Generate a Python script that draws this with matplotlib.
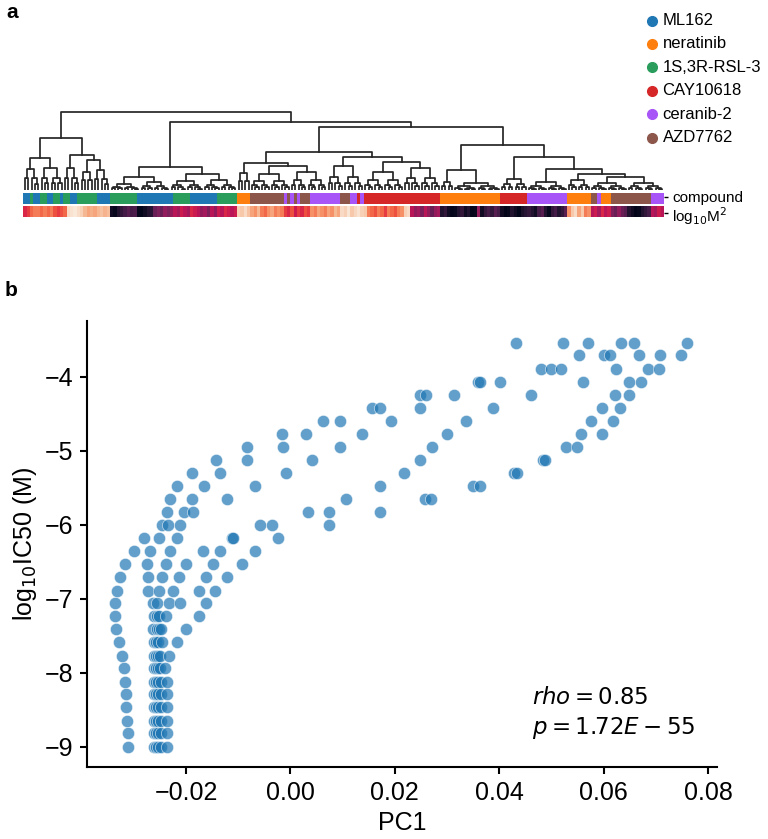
import numpy as np
import matplotlib
matplotlib.use("Agg")
import matplotlib.pyplot as plt
import seaborn as sns
from matplotlib.colors import ListedColormap

plt.rcParams['font.family'] = ['Liberation Sans', 'DejaVu Sans']

# ---- panel a: clustered profiles ----
compounds = ["ML162", "neratinib", "1S,3R-RSL-3", "CAY10618", "ceranib-2", "AZD7762"]
compound_colors = ["#1f77b4", "#ff7f0e", "#2a9d5c", "#d62728", "#a855f7", "#8c564b"]

# dendrogram leaf order as (compound index, run length)
leaf_runs = [(0, 2), (2, 1), (0, 2), (2, 2), (0, 2), (2, 2), (0, 1), (2, 2), (0, 2), (2, 6), (0, 4),
             (2, 8), (0, 11), (2, 5), (0, 8), (2, 6),
             (1, 4), (5, 10), (4, 1), (5, 1), (4, 1), (5, 1), (4, 1), (5, 3), (4, 9), (5, 3),
             (4, 2), (3, 1), (4, 1), (3, 23),
             (1, 18), (3, 8), (4, 12), (1, 7), (5, 2), (4, 1), (1, 3), (5, 12), (4, 4)]

# log10 M^2 for each leaf, in leaf order
log_m2 = [
    -12, -11.5, -10.5, -10, -10, -10.5, -10, -10.5, -10, -11, -11.5, -11, -10.5,
    -7.5, -7.3, -7.1, -7.4, -7.8,
    -8.5, -9, -8.7, -9, -8.5, -8.2, -8.6, -8.3,
    -17.5, -17.8, -17, -16.5,
    -16, -15.5, -16, -15.8,
    -17.8, -18, -17.5, -17, -16.8,
    -15, -14.5, -15, -14, -14.5, -14,
    -13, -13.5, -12.5, -13, -13.5,
    -12, -12.5, -13,
    -14, -13.5, -14.5, -13, -14,
    -12.5, -13, -12, -12.5, -13, -12.5,
    -7.8, -8, -7.5, -8.2,
    -9, -9.5, -8.5, -10, -10.5, -9.5, -9, -10, -9.5, -10,
    -11.5, -12, -11, -12.5, -11.5, -12, -11, -11.5,
    -9.5, -10, -9, -9.5, -10, -9, -9.5, -8.5, -9,
    -7.5, -7.8, -7.2, -8, -7.6, -7.3, -7.8, -8,
    -10, -10.5, -11, -10, -10.5, -11.5, -10, -10.5, -11, -10, -9.5,
    -7.8, -7.5,
    -13, -14, -13.5, -14.5, -13, -14, -15, -14, -13.5,
    -17, -16.5, -17.5, -18, -17.8, -17, -16.5, -17.5, -17, -18, -17.8, -14, -17.5, -16.5,
    -16, -16.5, -15.5, -16,
    -17.5, -18, -17.8, -17, -17.5, -18, -17.2, -16.8,
    -16.5, -17, -17.5, -16, -15.5, -17, -17.8, -16.5, -16, -17, -16.5, -15.5,
    -9.5, -8, -7.5, -9, -8, -10, -9.5,
    -13, -12.5, -13.5, -12, -13, -12.5,
    -14.5, -15, -14, -15, -15.5,
    -17, -17.5, -18, -17.8, -17, -16.5, -16,
    -13, -13.5, -12.5, -13,
]

# linkage tree: (height, left, right); [n_leaves, height] = block merged below height
tree = (78.3,
        (51.7,
         (31.7, [5, 21], [7, 22]),
         (35, [5, 22], (30, [4, 18], [5, 20]))),
        (67.7,
         (23.3, (13.3, [9, 6], [9, 8]), (15.7, [10, 9], [10, 10])),
         (63.3,
          (38.3,
           (26.7, [4, 16.7], (24, [12, 16], [11, 18])),
           (33.3, [11, 24], (28.3, [12, 18], [11, 21.7]))),
          (45,
           (20, [4, 8], [14, 7]),
           (32.7, [8, 11], (20.7, [12, 8], (15.7, [7, 10], [22, 13])))))))

# ---- panel b: PC1 vs IC50 ----
ic50_levels = [-9.00, -8.82, -8.65, -8.47, -8.29, -8.12, -7.94, -7.77, -7.59, -7.41,
               -7.24, -7.06, -6.89, -6.71, -6.53, -6.36, -6.18, -6.00, -5.83, -5.65,
               -5.48, -5.30, -5.12, -4.95, -4.77, -4.59, -4.42, -4.24, -4.07, -3.89,
               -3.71, -3.54]
pc1_at_level = [
    [-0.0311, -0.0261, -0.0258, -0.0254, -0.0248, -0.0237],
    [-0.0312, -0.0261, -0.0258, -0.0254, -0.0248, -0.0237],
    [-0.0313, -0.0261, -0.0258, -0.0254, -0.0248, -0.0237],
    [-0.0314, -0.0261, -0.0258, -0.0254, -0.0248, -0.0237],
    [-0.0315, -0.0261, -0.0258, -0.0254, -0.0248, -0.0237],
    [-0.0317, -0.0261, -0.0258, -0.0254, -0.0248, -0.0237],
    [-0.0319, -0.0261, -0.0258, -0.0254, -0.0249, -0.0241],
    [-0.0322, -0.0261, -0.0258, -0.0254, -0.0250, -0.0233],
    [-0.0329, -0.0261, -0.0258, -0.0254, -0.0246, -0.0217],
    [-0.0334, -0.0263, -0.0256, -0.0252, -0.0247, -0.0200],
    [-0.0336, -0.0261, -0.0255, -0.0251, -0.0239, -0.0176],
    [-0.0336, -0.0263, -0.0255, -0.0233, -0.0212, -0.0162],
    [-0.0333, -0.0272, -0.0251, -0.0224, -0.0176, -0.0145],
    [-0.0326, -0.0273, -0.0245, -0.0214, -0.0161, -0.0122],
    [-0.0317, -0.0274, -0.0239, -0.0200, -0.0149, -0.0093],
    [-0.0299, -0.0268, -0.0230, -0.0168, -0.0135, -0.0068],
    [-0.0281, -0.0252, -0.0218, -0.0112, -0.0109, -0.0023],
    [-0.0245, -0.0234, -0.0212, -0.0058, -0.0036, 0.0074],
    [-0.0237, -0.0204, -0.0187, 0.0033, 0.0074, 0.0172],
    [-0.0231, -0.0188, -0.0122, 0.0106, 0.0257, 0.0269],
    [-0.0218, -0.0166, -0.0068, 0.0172, 0.0350, 0.0364],
    [-0.0189, -0.0135, -0.0009, 0.0217, 0.0429, 0.0434],
    [-0.0143, -0.0084, 0.0042, 0.0249, 0.0484, 0.0488],
    [-0.0083, -0.0014, 0.0095, 0.0271, 0.0527, 0.0548],
    [-0.0017, 0.0030, 0.0138, 0.0300, 0.0556, 0.0597],
    [0.0062, 0.0095, 0.0193, 0.0336, 0.0575, 0.0618],
    [0.0156, 0.0172, 0.0248, 0.0388, 0.0597, 0.0631],
    [0.0249, 0.0259, 0.0314, 0.0461, 0.0622, 0.0648],
    [0.0359, 0.0363, 0.0402, 0.0560, 0.0648, 0.0672],
    [0.0480, 0.0500, 0.0518, 0.0624, 0.0684, 0.0705],
    [0.0552, 0.0601, 0.0612, 0.0668, 0.0707, 0.0749],
    [0.0433, 0.0523, 0.0569, 0.0634, 0.0658, 0.0760],
]

W, H = 768, 839
fig = plt.figure(figsize=(W / 100, H / 100), dpi=100)


def box(x0, y0, x1, y1):
    # pixel box (top-left origin) -> figure fraction rect
    return [x0 / W, 1 - y1 / H, (x1 - x0) / W, (y1 - y0) / H]


codes = np.concatenate([[c] * n for c, n in leaf_runs])
n_leaves = len(codes)

# dendrogram
ax_d = fig.add_axes(box(23.3, 105, 664, 190))
next_leaf = [0]
LINE = dict(color="0.15", lw=1.25)


def block(n, h):
    if n == 1:
        x = next_leaf[0] + 0.5
        next_leaf[0] += 1
        return x, 0.0
    k = n // 2
    ch = max(h * 0.55, 1.2)
    xl, hl = block(k, ch)
    xr, hr = block(n - k, ch)
    ax_d.plot([xl, xl, xr, xr], [hl, h, h, hr], **LINE)
    return (xl + xr) / 2, h


def draw(node):
    if isinstance(node, list):
        return block(*node)
    h, left, right = node
    xl, hl = draw(left)
    xr, hr = draw(right)
    ax_d.plot([xl, xl, xr, xr], [hl, h, h, hr], **LINE)
    return (xl + xr) / 2, h


draw(tree)
ax_d.set_xlim(0, n_leaves)
ax_d.set_ylim(0, 85)
ax_d.set_axis_off()

# colour rows
ax_c = fig.add_axes(box(23.3, 192.5, 664, 204))
ax_c.pcolormesh(np.arange(n_leaves + 1), [0, 1], codes[None, :],
                cmap=ListedColormap(compound_colors), vmin=-0.5, vmax=5.5)
ax_h = fig.add_axes(box(23.3, 205.5, 664, 216.5))
ax_h.pcolormesh(np.arange(n_leaves + 1), [0, 1], np.array(log_m2)[None, :],
                cmap=sns.color_palette("rocket", as_cmap=True), vmin=-18, vmax=-7)
for a, lab, ty in [(ax_c, "compound", 0.62), (ax_h, r"log$_{10}$M$^2$", 0.3)]:
    a.set_xlim(0, n_leaves)
    a.set_ylim(0, 1)
    a.set_xticks([])
    a.yaxis.tick_right()
    a.set_yticks([ty])
    a.set_yticklabels([lab])
    a.tick_params(axis="y", length=3, width=1, pad=3, labelsize=11)
    for s in a.spines.values():
        s.set_visible(False)

# legend
ax_o = fig.add_axes([0, 0, 1, 1])
ax_o.set_xlim(0, W)
ax_o.set_ylim(H, 0)
ax_o.set_axis_off()
for i, (name, col) in enumerate(zip(compounds, compound_colors)):
    y = 20.5 + i * 23.4
    ax_o.plot([651.7], [y], "o", color=col, ms=7)
    ax_o.text(662.5, y, name, va="center", ha="left", fontsize=12)

fig.text(12 / W, 1 - 12 / H, "a", ha="center", va="center", fontsize=15, fontweight="bold")
fig.text(11 / W, 1 - 290 / H, "b", ha="center", va="center", fontsize=15, fontweight="bold")

# scatter
ax = fig.add_axes(box(87.3, 320.7, 717, 767.3))
xs = [x for row in pc1_at_level for x in row]
ys = [y for y, row in zip(ic50_levels, pc1_at_level) for _ in row]
ax.scatter(xs, ys, s=78, color="#1f77b4", alpha=0.7, edgecolors="white", linewidths=0.5)
ax.set_xlim(-0.0389, 0.0817)
ax.set_ylim(-9.28, -3.24)
ax.set_xticks([-0.02, 0.0, 0.02, 0.04, 0.06, 0.08])
ax.set_yticks([-9, -8, -7, -6, -5, -4])
ax.spines["top"].set_visible(False)
ax.spines["right"].set_visible(False)
for s in ["left", "bottom"]:
    ax.spines[s].set_linewidth(1.5)
ax.tick_params(labelsize=18, width=1.5, length=5, pad=5)
ax.set_xlabel("PC1", fontsize=18)
ax.set_ylabel(r"log$_{10}$IC50 (M)", fontsize=18)
ax.text(0.0462, -8.42, r"$rho = 0.85$", fontsize=16.5, va="baseline")
ax.text(0.0462, -8.83, r"$p = 1.72E-55$", fontsize=16.5, va="baseline")

fig.savefig("out.png", dpi=100)
